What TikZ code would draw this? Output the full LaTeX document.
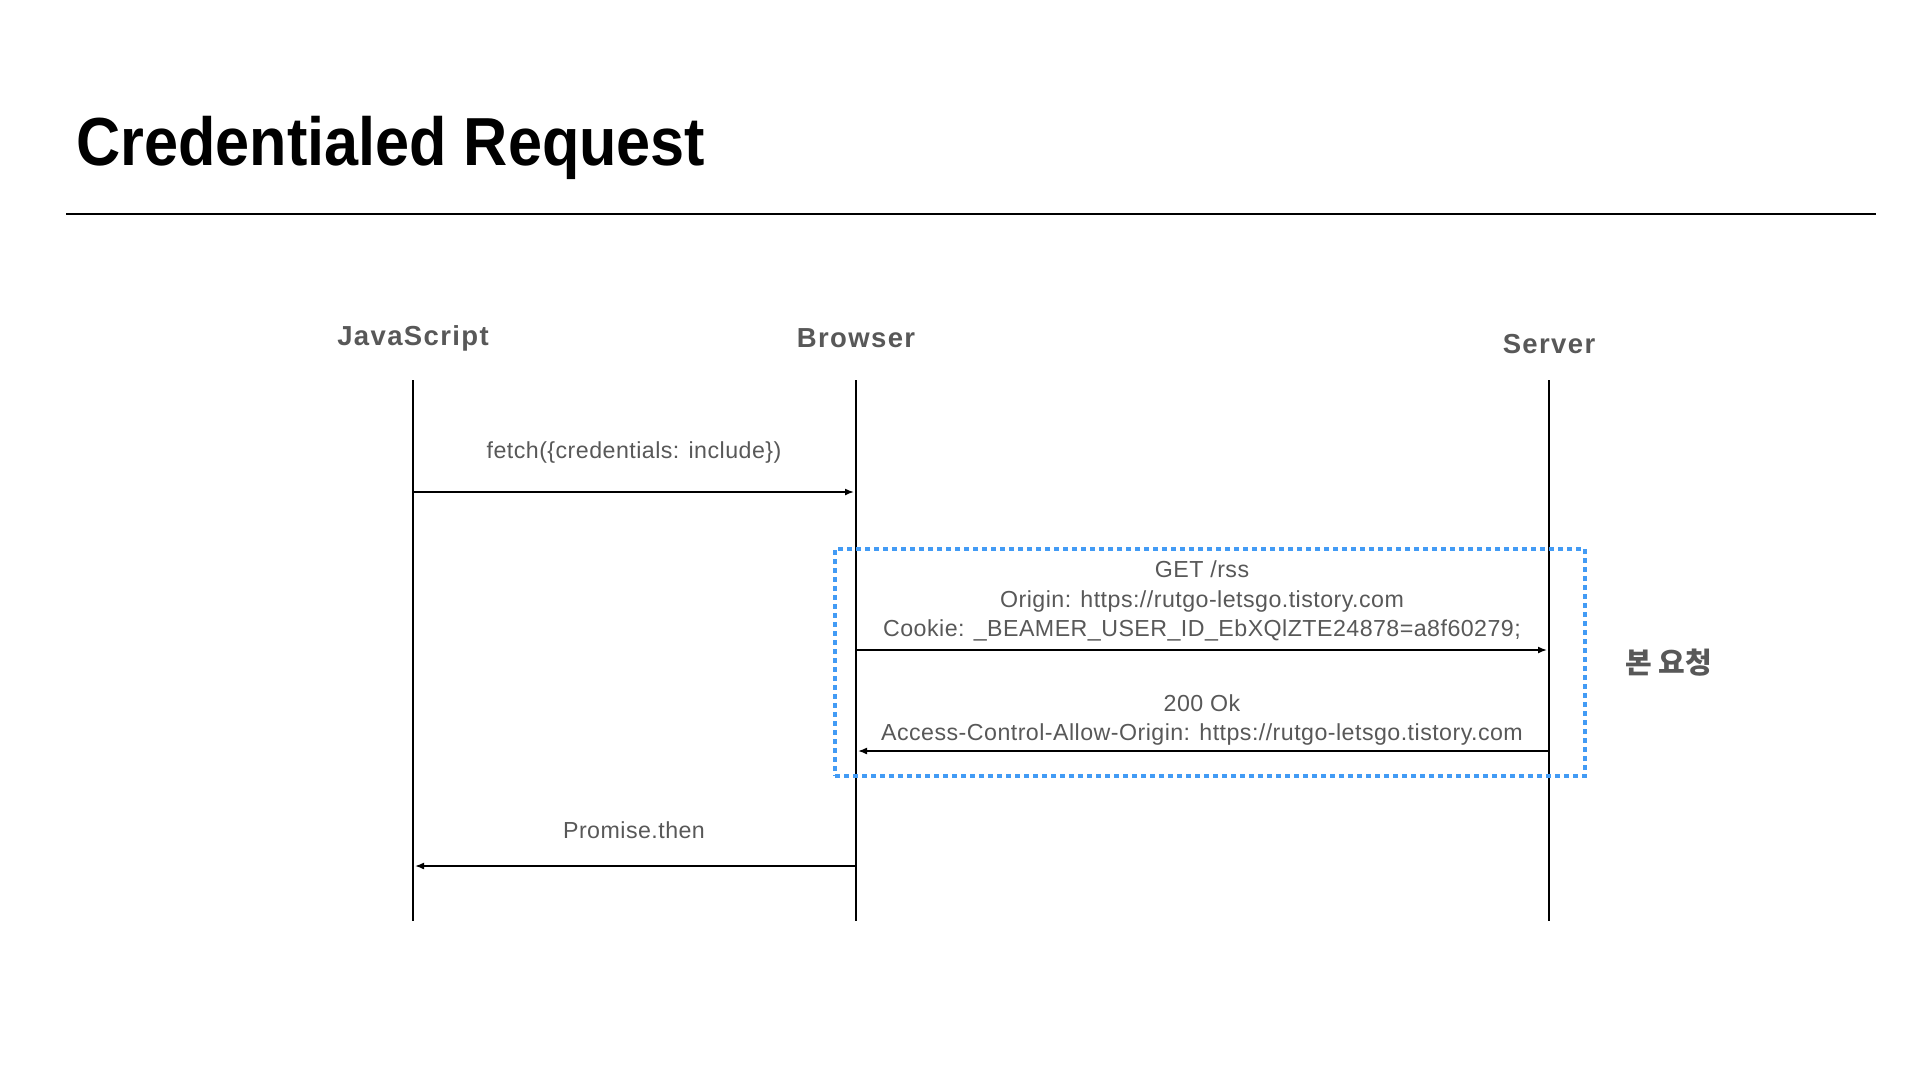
\documentclass[tikz,border=0pt]{standalone}
\usepackage{fontspec}
\setmainfont{Liberation Sans}
\newfontfamily\seqfont[LetterSpace=5]{Liberation Sans}
\newfontfamily\msgfont[LetterSpace=2]{Liberation Sans}
\newfontfamily\krfont{Noto Sans CJK KR}
\usetikzlibrary{positioning,arrows.meta}
\definecolor{seqgrey}{RGB}{88,88,88}
\definecolor{seqblue}{RGB}{66,155,245}

\begin{document}
\begin{tikzpicture}[x=1pt,y=-1pt,
  actor/.style={font=\seqfont\fontsize{27.5}{30}\selectfont\bfseries, text=seqgrey, inner sep=0pt},
  msgtext/.style={font=\msgfont\fontsize{23.2}{29.5}\selectfont, text=seqgrey, align=center, inner sep=0pt},
  lifeline/.style={line width=1.6pt},
  msg/.style={line width=1.6pt, -{Latex[length=9pt,width=7pt]}, shorten >=2pt},
  region/.style={draw=seqblue, line width=4pt, dash pattern=on 5pt off 4pt, minimum width=750pt, minimum height=227pt, inner sep=0pt}
]
  \useasboundingbox (0,0) rectangle (1920,1080);

  \node[anchor=base west, inner sep=0pt, font=\fontsize{68}{72}\selectfont\bfseries] (title) at (76,165) {\scalebox{0.9}[1]{Credentialed Request}};
  \draw[line width=1.6pt] (66,214) -- (1876,214);

  \node[actor] (js) at (413,338) {JavaScript};
  \node[actor] (br) at (856,338) {Browser};
  \node[actor] (sv) at (1549,344) {Server};

  \foreach \n/\x in {js/413, br/856, sv/1549}{
    \coordinate (\n top) at (\x,380);
    \coordinate (\n bot) at (\x,921);
    \draw[lifeline] (\n top) -- (\n bot);
  }

  \node[region] (main) at (1210,662.5) {};
  \node[right=38pt of main, font=\krfont\fontsize{29}{32}\selectfont\bfseries, text=seqgrey, inner sep=0pt] (mainlbl) {본 요청};

  \coordinate (js1) at (413,492);
  \coordinate (br1) at (856,492);
  \coordinate (br2) at (856,650);
  \coordinate (sv2) at (1549,650);
  \coordinate (sv3) at (1549,751);
  \coordinate (br3) at (856,751);
  \coordinate (br4) at (856,866);
  \coordinate (js4) at (413,866);

  \node[msgtext] (fetch) at (634,452) {fetch(\{credentials: include\})};
  \node[msgtext] (req) at (1202,601) {GET /rss\\Origin: https://rutgo-letsgo.tistory.com\\Cookie: \_BEAMER\_USER\_ID\_EbXQlZTE24878=a8f60279;};
  \node[msgtext] (res) at (1202,720) {200 Ok\\Access-Control-Allow-Origin: https://rutgo-letsgo.tistory.com};
  \node[msgtext] (prom) at (634,830) {Promise.then};

  \draw[msg] (js1) -- (br1);
  \draw[msg] (br2) -- (sv2);
  \draw[msg] (sv3) -- (br3);
  \draw[msg] (br4) -- (js4);
\end{tikzpicture}
\end{document}
